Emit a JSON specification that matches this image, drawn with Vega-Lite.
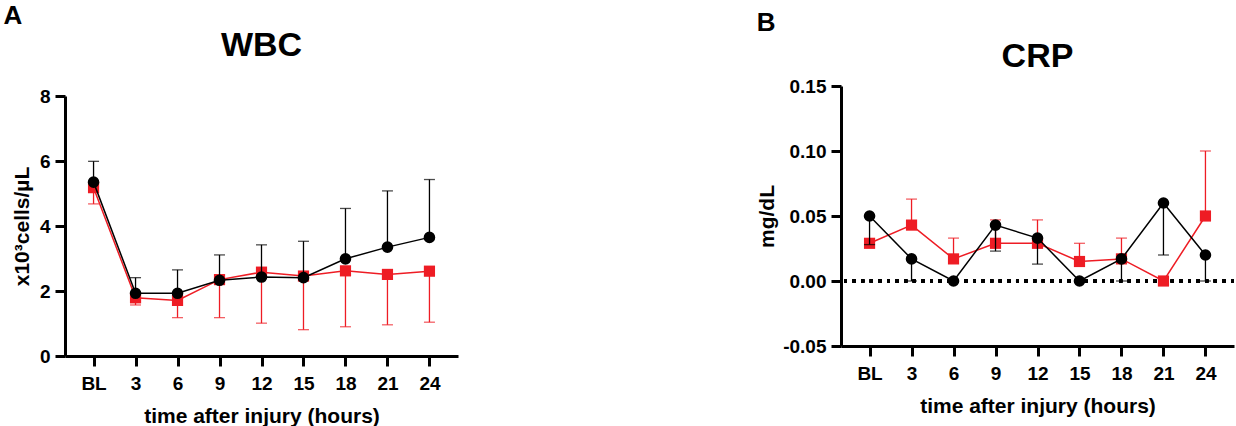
{
  "$schema": "https://vega.github.io/schema/vega-lite/v6.json",
  "padding": {"left": 3, "top": 3, "right": 0, "bottom": 0},
  "config": {
    "font": "Liberation Sans",
    "view": {"stroke": null},
    "axis": {
      "grid": false,
      "domainColor": "black",
      "domainWidth": 3,
      "tickColor": "black",
      "tickWidth": 3,
      "tickSize": 10,
      "labelFont": "Liberation Sans",
      "labelFontSize": 19,
      "labelFontWeight": "bold",
      "labelColor": "black",
      "labelPadding": 5,
      "titleFont": "Liberation Sans",
      "titleFontSize": 21,
      "titleFontWeight": "bold",
      "titleColor": "black"
    },
    "title": {"font": "Liberation Sans", "fontWeight": "bold", "color": "black"}
  },
  "datasets": {
    "wbc": [
      {"t": "BL", "group": "Group 2", "mean": 5.18, "err": 4.68},
      {"t": "3", "group": "Group 2", "mean": 1.79, "err": 1.57},
      {"t": "6", "group": "Group 2", "mean": 1.71, "err": 1.18},
      {"t": "9", "group": "Group 2", "mean": 2.35, "err": 1.18},
      {"t": "12", "group": "Group 2", "mean": 2.58, "err": 1.01},
      {"t": "15", "group": "Group 2", "mean": 2.46, "err": 0.81},
      {"t": "18", "group": "Group 2", "mean": 2.62, "err": 0.90},
      {"t": "21", "group": "Group 2", "mean": 2.51, "err": 0.96},
      {"t": "24", "group": "Group 2", "mean": 2.61, "err": 1.04},
      {"t": "BL", "group": "Group 1", "mean": 5.35, "err": 5.99},
      {"t": "3", "group": "Group 1", "mean": 1.93, "err": 2.41},
      {"t": "6", "group": "Group 1", "mean": 1.93, "err": 2.65},
      {"t": "9", "group": "Group 1", "mean": 2.33, "err": 3.11},
      {"t": "12", "group": "Group 1", "mean": 2.43, "err": 3.42},
      {"t": "15", "group": "Group 1", "mean": 2.41, "err": 3.53},
      {"t": "18", "group": "Group 1", "mean": 2.99, "err": 4.54},
      {"t": "21", "group": "Group 1", "mean": 3.35, "err": 5.08},
      {"t": "24", "group": "Group 1", "mean": 3.65, "err": 5.43}
    ],
    "crp": [
      {"t": "BL", "group": "Group 2", "mean": 0.029, "err": null},
      {"t": "3", "group": "Group 2", "mean": 0.043, "err": 0.063},
      {"t": "6", "group": "Group 2", "mean": 0.017, "err": 0.033},
      {"t": "9", "group": "Group 2", "mean": 0.029, "err": 0.047},
      {"t": "12", "group": "Group 2", "mean": 0.029, "err": 0.047},
      {"t": "15", "group": "Group 2", "mean": 0.015, "err": 0.029},
      {"t": "18", "group": "Group 2", "mean": 0.017, "err": 0.033},
      {"t": "21", "group": "Group 2", "mean": 0.0, "err": null},
      {"t": "24", "group": "Group 2", "mean": 0.050, "err": 0.100},
      {"t": "BL", "group": "Group 1", "mean": 0.050, "err": 0.028},
      {"t": "3", "group": "Group 1", "mean": 0.017, "err": 0.0},
      {"t": "6", "group": "Group 1", "mean": 0.0, "err": null},
      {"t": "9", "group": "Group 1", "mean": 0.043, "err": 0.023},
      {"t": "12", "group": "Group 1", "mean": 0.033, "err": 0.013},
      {"t": "15", "group": "Group 1", "mean": 0.0, "err": null},
      {"t": "18", "group": "Group 1", "mean": 0.017, "err": 0.0},
      {"t": "21", "group": "Group 1", "mean": 0.060, "err": 0.020},
      {"t": "24", "group": "Group 1", "mean": 0.020, "err": 0.0}
    ]
  },
  "spacing": 298,
  "align": "none",
  "hconcat": [
    {
      "title": {"text": "A", "anchor": "start", "fontSize": 26, "offset": 0, "dx": -8},
      "vconcat": [
        {
          "title": {"text": "WBC", "fontSize": 34, "offset": 7, "dy": -16},
          "width": 393,
          "height": 270,
          "data": {"name": "wbc"},
          "encoding": {
            "x": {"field": "t", "type": "ordinal", "sort": ["BL", "3", "6", "9", "12", "15", "18", "21", "24"],
                  "scale": {"type": "point", "padding": 0.68},
                  "axis": {"title": "time after injury (hours)", "labelAngle": 0, "labelPadding": 8, "titlePadding": 12}},
            "color": {"field": "group", "type": "nominal", "scale": {"domain": ["Group 1", "Group 2"], "range": ["#000000", "#ee1c24"]}, "legend": null}
          },
          "layer": [
            {"transform": [{"filter": "datum.group === 'Group 2'"}], "mark": {"type": "rule", "strokeWidth": 1.3},
             "encoding": {"y": {"field": "mean", "type": "quantitative", "scale": {"domain": [0, 8], "nice": false, "range": [270, 10]}, "axis": {"values": [0, 2, 4, 6, 8], "title": "x10³cells/µL", "titlePadding": 7}}, "y2": {"field": "err"}}},
            {"transform": [{"filter": "datum.group === 'Group 2'"}], "mark": {"type": "tick", "size": 11, "thickness": 1.3},
             "encoding": {"y": {"field": "err", "type": "quantitative", "title": "x10³cells/µL"}}},
            {"transform": [{"filter": "datum.group === 'Group 2'"}], "mark": {"type": "line", "strokeWidth": 1.5},
             "encoding": {"y": {"field": "mean", "type": "quantitative", "title": "x10³cells/µL"}}},
            {"transform": [{"filter": "datum.group === 'Group 2'"}], "mark": {"type": "point", "shape": "square", "filled": true, "size": 125, "opacity": 1},
             "encoding": {"y": {"field": "mean", "type": "quantitative", "title": "x10³cells/µL"}}},
            {"transform": [{"filter": "datum.group === 'Group 1'"}], "mark": {"type": "rule", "strokeWidth": 1.3},
             "encoding": {"y": {"field": "mean", "type": "quantitative", "title": "x10³cells/µL"}, "y2": {"field": "err"}}},
            {"transform": [{"filter": "datum.group === 'Group 1'"}], "mark": {"type": "tick", "size": 11, "thickness": 1.3},
             "encoding": {"y": {"field": "err", "type": "quantitative", "title": "x10³cells/µL"}}},
            {"transform": [{"filter": "datum.group === 'Group 1'"}], "mark": {"type": "line", "strokeWidth": 1.5},
             "encoding": {"y": {"field": "mean", "type": "quantitative", "title": "x10³cells/µL"}}},
            {"transform": [{"filter": "datum.group === 'Group 1'"}], "mark": {"type": "point", "shape": "circle", "filled": true, "size": 135, "opacity": 1},
             "encoding": {"y": {"field": "mean", "type": "quantitative", "title": "x10³cells/µL"}}}
          ]
        }
      ]
    },
    {
      "title": {"text": "B", "anchor": "start", "fontSize": 26, "offset": 0, "dx": 0, "dy": -4},
      "vconcat": [
        {
          "title": {"text": "CRP", "fontSize": 34, "offset": 7, "dy": 4},
          "width": 393,
          "height": 260,
          "data": {"name": "crp"},
          "layer": [
            {"mark": {"type": "rule", "strokeWidth": 3, "strokeDash": [3, 5.6], "color": "black"},
             "encoding": {"y": {"datum": 0, "type": "quantitative", "scale": {"domain": [-0.05, 0.15], "nice": false}, "axis": {"values": [-0.05, 0, 0.05, 0.1, 0.15], "labelExpr": "replace(format(datum.value, '.2f'), '\u2212', '-')", "title": "mg/dL", "titlePadding": 5}}}},
            {
              "encoding": {
                "x": {"field": "t", "type": "ordinal", "sort": ["BL", "3", "6", "9", "12", "15", "18", "21", "24"],
                      "scale": {"type": "point", "padding": 0.68},
                      "axis": {"title": "time after injury (hours)", "labelAngle": 0, "labelPadding": 8, "titlePadding": 12}},
                "color": {"field": "group", "type": "nominal", "scale": {"domain": ["Group 1", "Group 2"], "range": ["#000000", "#ee1c24"]}, "legend": null}
              },
              "layer": [
                {"transform": [{"filter": "datum.group === 'Group 2'"}], "mark": {"type": "rule", "strokeWidth": 1.3},
                 "encoding": {"y": {"field": "mean", "type": "quantitative", "title": "mg/dL"}, "y2": {"field": "err"}}},
                {"transform": [{"filter": "datum.group === 'Group 2'"}], "mark": {"type": "tick", "size": 11, "thickness": 1.3},
                 "encoding": {"y": {"field": "err", "type": "quantitative", "title": "mg/dL"}}},
                {"transform": [{"filter": "datum.group === 'Group 2'"}], "mark": {"type": "line", "strokeWidth": 1.5},
                 "encoding": {"y": {"field": "mean", "type": "quantitative", "title": "mg/dL"}}},
                {"transform": [{"filter": "datum.group === 'Group 2'"}], "mark": {"type": "point", "shape": "square", "filled": true, "size": 125, "opacity": 1},
                 "encoding": {"y": {"field": "mean", "type": "quantitative", "title": "mg/dL"}}},
                {"transform": [{"filter": "datum.group === 'Group 1'"}], "mark": {"type": "rule", "strokeWidth": 1.3},
                 "encoding": {"y": {"field": "mean", "type": "quantitative", "title": "mg/dL"}, "y2": {"field": "err"}}},
                {"transform": [{"filter": "datum.group === 'Group 1'"}], "mark": {"type": "tick", "size": 11, "thickness": 1.3},
                 "encoding": {"y": {"field": "err", "type": "quantitative", "title": "mg/dL"}}},
                {"transform": [{"filter": "datum.group === 'Group 1'"}], "mark": {"type": "line", "strokeWidth": 1.5},
                 "encoding": {"y": {"field": "mean", "type": "quantitative", "title": "mg/dL"}}},
                {"transform": [{"filter": "datum.group === 'Group 1'"}], "mark": {"type": "point", "shape": "circle", "filled": true, "size": 135, "opacity": 1},
                 "encoding": {"y": {"field": "mean", "type": "quantitative", "title": "mg/dL"}}}
              ]
            }
          ]
        }
      ]
    }
  ]
}
